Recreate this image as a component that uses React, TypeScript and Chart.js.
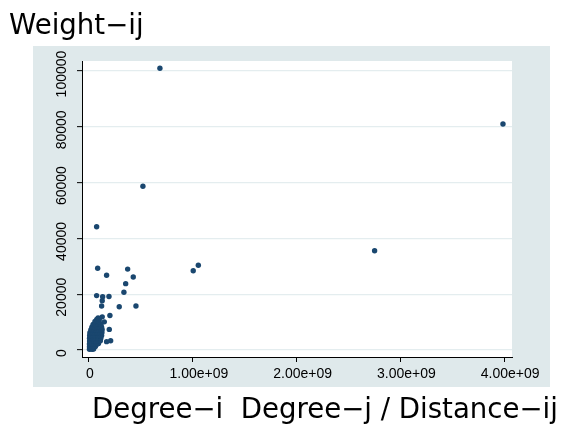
import { useEffect, useRef } from "react";
import { Chart, registerables } from "chart.js";

Chart.register(...registerables);

// ---- axis ticks & titles ----
const xTickValues = [0, 1e9, 2e9, 3e9, 4e9];
const xTickLabels = ["0", "1.00e+09", "2.00e+09", "3.00e+09", "4.00e+09"];
const yTickValues = [0, 20000, 40000, 60000, 80000, 100000];
const yTickLabels = ["0", "20000", "40000", "60000", "80000", "100000"];
const yTitle = "Weight\u2212ij";
const xTitle = "Degree\u2212i  Degree\u2212j / Distance\u2212ij";

// ---- scattered observations (x = Degree-i Degree-j / Distance-ij, y = Weight-ij) ----
const outlierX = [
  6.84e8, 3.99e9, 5.2e8, 7.4e7, 2.753e9, 1.054e9, 1.005e9, 8.4e7, 3.73e8, 1.7e8,
  4.27e8, 3.54e8, 3.37e8, 7.4e7, 1.32e8, 1.93e8, 1.28e8, 1.22e8, 2.92e8, 4.53e8,
  1.28e8, 2.02e8, 1.48e8, 1.96e8, 1.7e8, 2.09e8,
];
const outlierY = [
  101000, 81000, 58700, 44200, 35600, 30400, 28400, 29300, 29000, 26800,
  26200, 23800, 20700, 19500, 19100, 19200, 17700, 15800, 15500, 15800,
  11900, 12400, 10100, 7400, 3000, 3300,
];

// ---- dense cluster of observations near the origin ----
const clusterX = [
  5e6, 1.8e7, 3.2e7, 4.5e7,
  5e6, 2.0e7, 3.5e7, 5.0e7, 6.2e7,
  5e6, 2.0e7, 3.5e7, 5.0e7, 6.5e7, 8.0e7, 9.2e7,
  6e6, 2.0e7, 3.6e7, 5.2e7, 6.8e7, 8.4e7, 9.8e7, 1.1e8,
  6e6, 2.2e7, 3.8e7, 5.4e7, 7.0e7, 8.7e7, 1.03e8, 1.15e8,
  7e6, 2.3e7, 4.0e7, 5.6e7, 7.2e7, 9.0e7, 1.06e8, 1.22e8,
  9e6, 2.5e7, 4.2e7, 5.8e7, 7.5e7, 9.2e7, 1.08e8, 1.25e8,
  1.8e7, 3.3e7, 5.0e7, 6.6e7, 8.2e7, 9.8e7, 1.13e8, 1.27e8,
  2.8e7, 4.4e7, 6.0e7, 7.6e7, 9.2e7, 1.08e8, 1.22e8,
  4.0e7, 5.6e7, 7.2e7, 8.8e7, 1.04e8, 1.16e8,
  5.8e7, 7.4e7, 8.6e7, 9.8e7,
  7.5e7, 9.0e7, 1.0e8,
  8.8e7,
];
const clusterY = [
  300, 400, 250, 350,
  1200, 1100, 1300, 1200, 1250,
  2200, 2300, 2100, 2200, 2250, 2150, 2300,
  3200, 3100, 3300, 3200, 3150, 3250, 3200, 3300,
  4200, 4300, 4100, 4200, 4250, 4150, 4200, 4300,
  5200, 5100, 5300, 5200, 5250, 5150, 5200, 5250,
  6200, 6300, 6100, 6200, 6250, 6150, 6200, 6250,
  7200, 7100, 7300, 7200, 7250, 7150, 7200, 7250,
  8200, 8300, 8100, 8200, 8250, 8150, 8200,
  9200, 9100, 9300, 9200, 9250, 9150,
  10200, 10300, 10100, 10200,
  11000, 10900, 11100,
  11500,
];

const PANEL = "#dfe9eb";
const GRID = "#e4edef";
const MARKER = "#1a476f";
const TICK_FONT = '14px "Liberation Sans", Arial, sans-serif';
const TITLE_FONT = '27.6px "DejaVu Sans", sans-serif';

const stataPlugin = {
  id: "stataLook",
  beforeDraw(chart: any) {
    const { ctx, chartArea } = chart;
    ctx.save();
    ctx.fillStyle = "#ffffff";
    ctx.fillRect(0, 0, chart.width, chart.height);
    ctx.fillStyle = PANEL;
    ctx.fillRect(chartArea.left - 49, chartArea.top - 15, chartArea.right - chartArea.left + 87, chartArea.bottom - chartArea.top + 45);
    ctx.fillStyle = "#ffffff";
    ctx.fillRect(chartArea.left, chartArea.top, chartArea.right - chartArea.left, chartArea.bottom - chartArea.top);
    ctx.restore();
  },
  afterDraw(chart: any) {
    const { ctx, chartArea } = chart;
    const xs = chart.scales.x;
    const ys = chart.scales.y;
    ctx.save();
    ctx.fillStyle = "#000000";
    ctx.font = TICK_FONT;
    ctx.textBaseline = "alphabetic";
    // x tick labels
    ctx.textAlign = "left";
    xTickValues.forEach((v, i) => {
      const px = xs.getPixelForValue(v);
      const lab = xTickLabels[i];
      ctx.fillText(lab, px - lab.length * 2.9, chartArea.bottom + 21);
    });
    // y tick labels (rotated)
    ctx.textAlign = "center";
    yTickValues.forEach((v, i) => {
      const py = ys.getPixelForValue(v);
      ctx.save();
      ctx.translate(chartArea.left - 16, py + 3);
      ctx.rotate(-Math.PI / 2);
      ctx.fillText(yTickLabels[i], 0, 0);
      ctx.restore();
    });
    // titles
    ctx.font = TITLE_FONT;
    ctx.textAlign = "left";
    ctx.fillText(yTitle, 9, 34);
    ctx.fillText(xTitle, 92, 418);
    ctx.restore();
  },
};

export default function App() {
  const ref = useRef<HTMLCanvasElement | null>(null);
  useEffect(() => {
    if (!ref.current) return;
    const points = [
      ...outlierX.map((x, i) => ({ x, y: outlierY[i] })),
      ...clusterX.map((x, i) => ({ x, y: clusterY[i] })),
    ];
    const chart = new Chart(ref.current, {
      type: "scatter",
      data: {
        datasets: [
          {
            data: points,
            backgroundColor: MARKER,
            borderColor: MARKER,
            borderWidth: 0,
            pointRadius: 2.7,
            pointHoverRadius: 2.7,
          },
        ],
      },
      options: {
        responsive: false,
        animation: false,
        events: [],
        layout: { padding: { left: 0, right: 53, top: 61, bottom: 0 } },
        plugins: {
          legend: { display: false },
          tooltip: { enabled: false },
          title: { display: false },
        },
        scales: {
          x: {
            type: "linear",
            position: "bottom",
            min: -6.7e7,
            max: 4.077e9,
            afterBuildTicks: (s: any) => {
              s.ticks = xTickValues.map((v) => ({ value: v }));
            },
            afterFit: (s: any) => {
              s.height = 69;
            },
            ticks: { display: false },
            grid: {
              drawOnChartArea: false,
              drawTicks: true,
              tickLength: 5,
              tickColor: "#000000",
              tickWidth: 1,
            },
            border: { display: true, color: "#000000", width: 1 },
          },
          y: {
            type: "linear",
            position: "left",
            min: -2500,
            max: 103600,
            afterBuildTicks: (s: any) => {
              s.ticks = yTickValues.map((v) => ({ value: v }));
            },
            afterFit: (s: any) => {
              s.width = 82;
            },
            ticks: { display: false },
            grid: {
              color: GRID,
              lineWidth: 1.3,
              drawTicks: true,
              tickLength: 5,
              tickColor: "#000000",
              tickWidth: 1,
            },
            border: { display: true, color: "#000000", width: 1 },
          },
        },
      },
      plugins: [stataPlugin],
    });
    return () => chart.destroy();
  }, []);
  return (
    <div style={{ position: "fixed", left: 0, top: 0, width: 565, height: 426 }}>
      <canvas ref={ref} width={565} height={426} style={{ width: 565, height: 426, display: "block" }} />
    </div>
  );
}
